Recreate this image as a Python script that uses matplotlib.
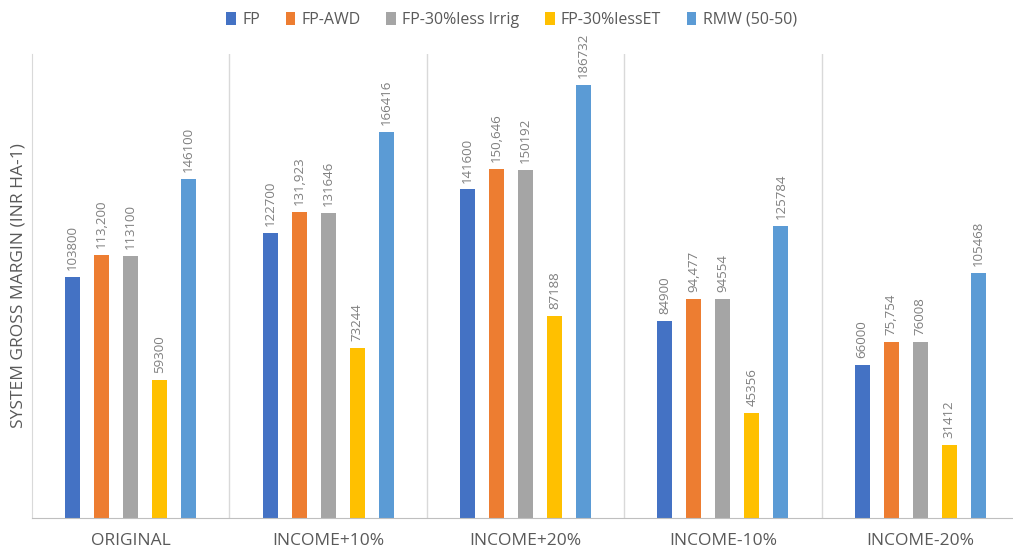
import matplotlib.pyplot as plt
import numpy as np

plt.rcParams['font.family'] = ['Open Sans', 'DejaVu Sans']

groups = ['ORIGINAL', 'INCOME+10%', 'INCOME+20%', 'INCOME-10%', 'INCOME-20%']
series = ['FP', 'FP-AWD', 'FP-30%less Irrig', 'FP-30%lessET', 'RMW (50-50)']
fp = [103800, 122700, 141600, 84900, 66000]
fp_awd = [113200, 131923, 150646, 94477, 75754]
fp_irrig = [113100, 131646, 150192, 94554, 76008]
fp_et = [59300, 73244, 87188, 45356, 31412]
rmw = [146100, 166416, 186732, 125784, 105468]
labels = [
    ['103800', '122700', '141600', '84900', '66000'],
    ['113,200', '131,923', '150,646', '94,477', '75,754'],
    ['113100', '131646', '150192', '94554', '76008'],
    ['59300', '73244', '87188', '45356', '31412'],
    ['146100', '166416', '186732', '125784', '105468'],
]
colors = ['#4472C4', '#ED7D31', '#A5A5A5', '#FFC000', '#5B9BD5']

fig = plt.figure(figsize=(10.13, 5.53), dpi=100)
ax = fig.add_axes([32 / 1013, 1 - 518 / 553, 1 - 32 / 1013, 464 / 553])

x = np.arange(len(groups))
width = 0.076
step = 0.147
for i, vals in enumerate([fp, fp_awd, fp_irrig, fp_et, rmw]):
    rects = ax.bar(x + (i - 2) * step, vals, width, color=colors[i], label=series[i])
    ax.bar_label(rects, labels=labels[i], rotation=90, padding=5,
                 fontsize=9.5, color='#7f7f7f')

ax.set_xlim(-0.5, 4.47)
ax.set_ylim(0, 200000)
ax.set_yticks([])
ax.set_xticks(x, groups)
ax.set_xticks(np.arange(0.5, 4.5, 1), minor=True)
ax.tick_params(axis='x', which='both', length=0)
ax.tick_params(axis='x', which='major', pad=11, labelsize=12.5, labelcolor='#595959')
ax.grid(axis='x', which='minor', color='#d9d9d9', linewidth=1)
ax.set_axisbelow(True)
for s in ['top', 'right']:
    ax.spines[s].set_visible(False)
ax.spines['left'].set_color('#d9d9d9')
ax.spines['bottom'].set_color('#bfbfbf')
ax.set_ylabel('SYSTEM GROSS MARGIN (INR HA-1)', fontsize=12.5, color='#595959', labelpad=4)

fig.legend(loc='upper center', bbox_to_anchor=(0.505, 1.005), ncols=5, frameon=False,
           fontsize=11.5, labelcolor='#595959', handlelength=0.6, handleheight=0.9,
           handletextpad=0.4, columnspacing=1.6)

plt.savefig('out.png')
